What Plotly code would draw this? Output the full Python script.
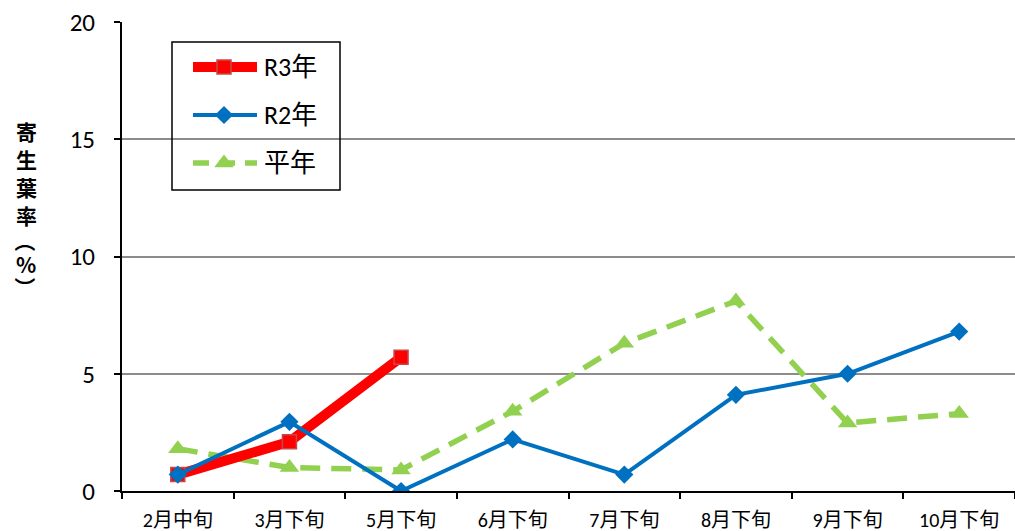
import plotly.graph_objects as go

categories = ["2月中旬", "3月下旬", "5月下旬", "6月下旬", "7月下旬", "8月下旬", "9月下旬", "10月下旬"]
r3_values = [0.7, 2.1, 5.7]
r2_values = [0.7, 2.95, 0.0, 2.2, 0.7, 4.1, 5.0, 6.8]
avg_values = [1.8, 1.0, 0.9, 3.4, 6.3, 8.1, 2.9, 3.3]
y_ticks = [0, 5, 10, 15, 20]
series_names = ["R3年", "R2年", "平年"]
y_title_chars = ["寄", "生", "葉", "率", "（", "%", "）"]

RED = "#ff0000"
BLUE = "#0070c0"
GREEN = "#92d050"
JP = "Noto Sans CJK JP"
NUM = "Carlito, Lato, Noto Sans CJK JP"

fig = go.Figure()

fig.add_trace(go.Scatter(
    x=categories, y=avg_values, mode="lines+markers", name=series_names[2],
    line=dict(color=GREEN, width=5.5, dash="20px,11px"),
    marker=dict(symbol="triangle-up", size=17, color=GREEN),
    showlegend=False))
fig.add_trace(go.Scatter(
    x=categories[:len(r3_values)], y=r3_values, mode="lines+markers", name=series_names[0],
    line=dict(color=RED, width=10),
    marker=dict(symbol="square", size=14, color=RED, line=dict(color="#c84848", width=1.5)),
    showlegend=False))
fig.add_trace(go.Scatter(
    x=categories, y=r2_values, mode="lines+markers", name=series_names[1],
    line=dict(color=BLUE, width=4),
    marker=dict(symbol="diamond", size=14, color=BLUE),
    showlegend=False))

# Custom legend drawn on an overlay pixel-like axis
leg_rows = [67, 115, 163]
leg_styles = [
    dict(line=dict(color=RED, width=10), marker=dict(symbol="square", size=14, color=RED, line=dict(color="#c84848", width=1.5))),
    dict(line=dict(color=BLUE, width=4), marker=dict(symbol="diamond", size=14, color=BLUE)),
    dict(line=dict(color=GREEN, width=5.5, dash="16px,10px"), marker=dict(symbol="triangle-up", size=17, color=GREEN)),
]
for name, yrow, st in zip(series_names, leg_rows, leg_styles):
    fig.add_trace(go.Scatter(x=[193, 257], y=[yrow, yrow], mode="lines", line=st["line"],
                             xaxis="x2", yaxis="y2", showlegend=False, hoverinfo="skip"))
    fig.add_trace(go.Scatter(x=[224], y=[yrow], mode="markers", marker=st["marker"],
                             xaxis="x2", yaxis="y2", showlegend=False, hoverinfo="skip"))
    fig.add_annotation(x=262, y=yrow, xref="x2", yref="y2", text=name, showarrow=False,
                       xanchor="left", yanchor="middle",
                       font=dict(family=NUM, size=26, color="black"))

fig.add_shape(type="rect", xref="x2", yref="y2", x0=172, x1=340, y0=42, y1=190,
              line=dict(color="black", width=1.5), fillcolor="rgba(0,0,0,0)", layer="above")

# Vertical y-axis title, one character per annotation (paper coords)
title_rows = [131, 159, 187, 215, 241, 264, 287]
title_angles = [0, 0, 0, 0, 90, 0, 90]
for ch, yr, ang in zip(y_title_chars, title_rows, title_angles):
    fig.add_annotation(x=(26 - 122) / 893, y=(491 - yr) / 469, xref="paper", yref="paper",
                       text=ch, showarrow=False, xanchor="center", yanchor="middle",
                       textangle=ang, borderpad=0,
                       font=dict(family=JP, size=21, color="black", weight="bold"))

fig.update_layout(
    width=1015, height=531,
    margin=dict(l=122, r=0, t=22, b=40),
    paper_bgcolor="white", plot_bgcolor="white",
    xaxis=dict(type="category", categoryorder="array", categoryarray=categories,
               range=[-0.5, 7.5], tickson="boundaries", ticks="outside", ticklen=6,
               tickcolor="black", tickwidth=1.5, showline=True, linecolor="black", linewidth=2,
               showgrid=False, ticklabelstandoff=10,
               tickfont=dict(family=NUM, size=20, color="black")),
    yaxis=dict(range=[0, 20], tickvals=y_ticks, ticks="outside", ticklen=6, tickcolor="black",
               tickwidth=1.5, showline=True, linecolor="black", linewidth=2,
               showgrid=True, gridcolor="#8c8c8c", gridwidth=1.5, zeroline=False,
               ticklabelstandoff=14,
               tickfont=dict(family=NUM, size=25, color="black")),
    xaxis2=dict(overlaying="x", range=[122, 1015], visible=False, fixedrange=True),
    yaxis2=dict(overlaying="y", range=[491, 22], visible=False, fixedrange=True),
)

fig.write_html("out.html", config={"displayModeBar": False},
               post_script="document.body.style.margin='0';document.body.style.overflow='hidden';")
